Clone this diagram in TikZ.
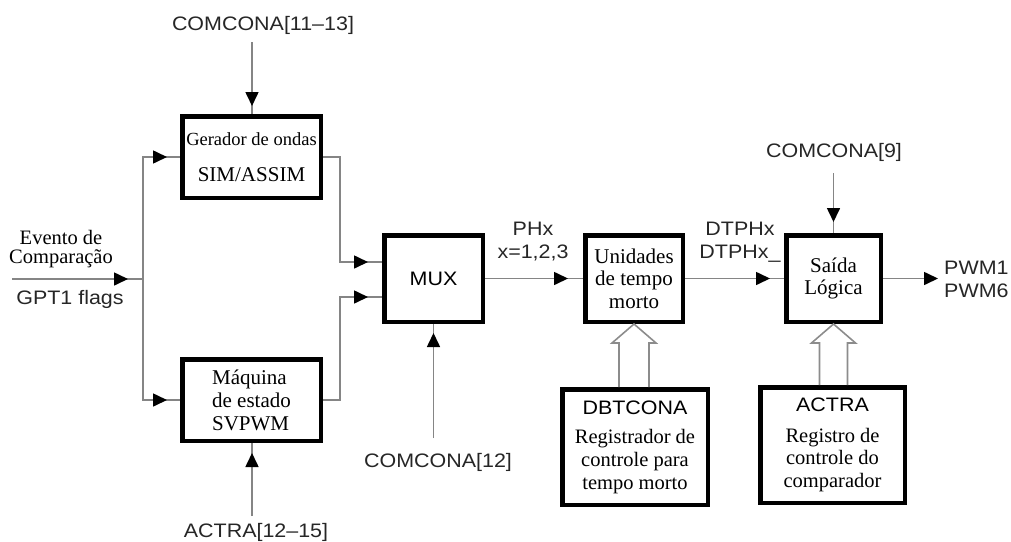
\documentclass[tikz,border=0pt]{standalone}
\usepackage{fontspec}
\setmainfont{Liberation Serif}
\newfontfamily\lab[FakeStretch=1.1,Ligatures=TeX]{Liberation Sans}
\usetikzlibrary{arrows.meta,calc,decorations.markings}
\begin{document}
\begin{tikzpicture}[x=1pt,y=-1pt,
  blk/.style={draw=black,line width=4.5pt,fill=white,align=center,inner sep=0pt,
    font=\fontsize{21}{22.5}\selectfont},
  conn/.style={draw=black!48,line width=1.6pt},
  tipat/.style={postaction={decorate,decoration={markings,
    mark=at position -#1 with {\arrow{Triangle[length=14pt,width=13pt,black]}}}}},
  hollow/.style={draw=black!45,line width=1.6pt,line join=miter},
  lbl/.style={font=\lab\fontsize{19.5}{23}\selectfont,text=black!85,inner sep=0pt,align=center},
]
\useasboundingbox (0,0) rectangle (1011,541);
% blocks
\node[blk,minimum width=138.5pt,minimum height=81.5pt] (gen) at (251.5,157)
  {{\fontsize{18.5}{22}\selectfont Gerador de ondas}\\[14pt]SIM/ASSIM};
\node[blk,minimum width=138.5pt,minimum height=81.5pt,align=left,
  font=\fontsize{21}{23}\selectfont] (mach) at (251.5,400)
  {M\'aquina\\de estado\\SVPWM};
\node[blk,minimum width=98.5pt,minimum height=86.5pt,font=\lab\fontsize{19.5}{23}\selectfont] (mux) at (433.5,278.5) {MUX};
\node[blk,minimum width=97.5pt,minimum height=86.5pt] (dtu) at (634,278.5)
  {Unidades\\de tempo\\morto};
\node[blk,minimum width=94.5pt,minimum height=86.5pt] (sai) at (833.5,278.5)
  {Sa\'ida\\L\'ogica};
\node[blk,minimum width=145.5pt,minimum height=115.5pt,font=\fontsize{20.5}{23}\selectfont] (dbt) at (635,447)
  {{\lab\fontsize{19.5}{23}\selectfont DBTCONA}\\[6pt]Registrador de\\controle para\\tempo morto};
\node[blk,minimum width=144.5pt,minimum height=115.5pt,font=\fontsize{20.5}{22.5}\selectfont] (act) at (832.5,445)
  {{\lab\fontsize{19.5}{23}\selectfont ACTRA}\\[8pt]Registro de\\controle do\\comparador};
% labels
\node[lbl] (lc1113) at (263,25) {COMCONA[11–13]};
\node[font=\fontsize{20.5}{19}\selectfont,align=center,inner sep=0pt] (evt) at (61,249) {Evento de\\Compara\c{c}\~ao};
\node[lbl] (gpt) at (70,299) {GPT1 flags};
\node[lbl] (la1215) at (256,532) {ACTRA[12–15]};
\node[lbl] (lc12) at (438,462) {COMCONA[12]};
\node[lbl] (lphx) at (533,242) {PHx\\x=1,2,3};
\node[lbl] (ldt) at (740,242) {DTPHx\\DTPHx\_};
\node[lbl] (lc9) at (834,152) {COMCONA[9]};
\node[lbl,anchor=west] (lpwm) at (944,279.5) {PWM1\\PWM6};
% coordinates
\coordinate (in) at (12,279);
\coordinate (bus) at (143,279);
\coordinate (c1113) at (252,42);
\coordinate (a1215) at (252,516);
\coordinate (c12) at (433.5,438);
\coordinate (c9) at (833.5,173);
\coordinate (out) at (938,278.5);
% connectors
\draw[conn,tipat=15pt] (in) -- (bus);
\draw[conn,tipat=13pt] (bus) |- (gen.west);
\draw[conn,tipat=13pt] (bus) |- (mach.west);
\draw[conn,tipat=14pt] (gen.east) -- ++(17,0) |- ($(mux.west)+(0,-16.5)$);
\draw[conn,tipat=14pt] (mach.east) -- ++(17,0) |- ($(mux.west)+(0,18.5)$);
\draw[conn,tipat=8pt] (c1113) -- (c1113 |- gen.north);
\draw[conn,tipat=10pt] (a1215) -- (a1215 |- mach.south);
\draw[conn,tipat=9pt] (c12) -- (mux.south);
\draw[conn,tipat=15pt] (mux.east) -- (dtu.west);
\draw[conn,tipat=14pt] (dtu.east) -- (sai.west);
\draw[conn,tipat=11pt] (c9) -- (sai.north);
\draw[conn,-{Triangle[length=14pt,width=13pt,black]}] (sai.east) -- (out);
% hollow arrows
\draw[hollow] ($(dbt.north -| dtu.south)+(-15,0)$) |- ($(dtu.south)+(-22,19)$)
  -- (dtu.south) -- ($(dtu.south)+(22,19)$) -| ($(dbt.north -| dtu.south)+(15,0)$);
\draw[hollow] ($(act.north -| sai.south)+(-14,0)$) |- ($(sai.south)+(-22,19)$)
  -- (sai.south) -- ($(sai.south)+(22,19)$) -| ($(act.north -| sai.south)+(14,0)$);
\end{tikzpicture}
\end{document}
